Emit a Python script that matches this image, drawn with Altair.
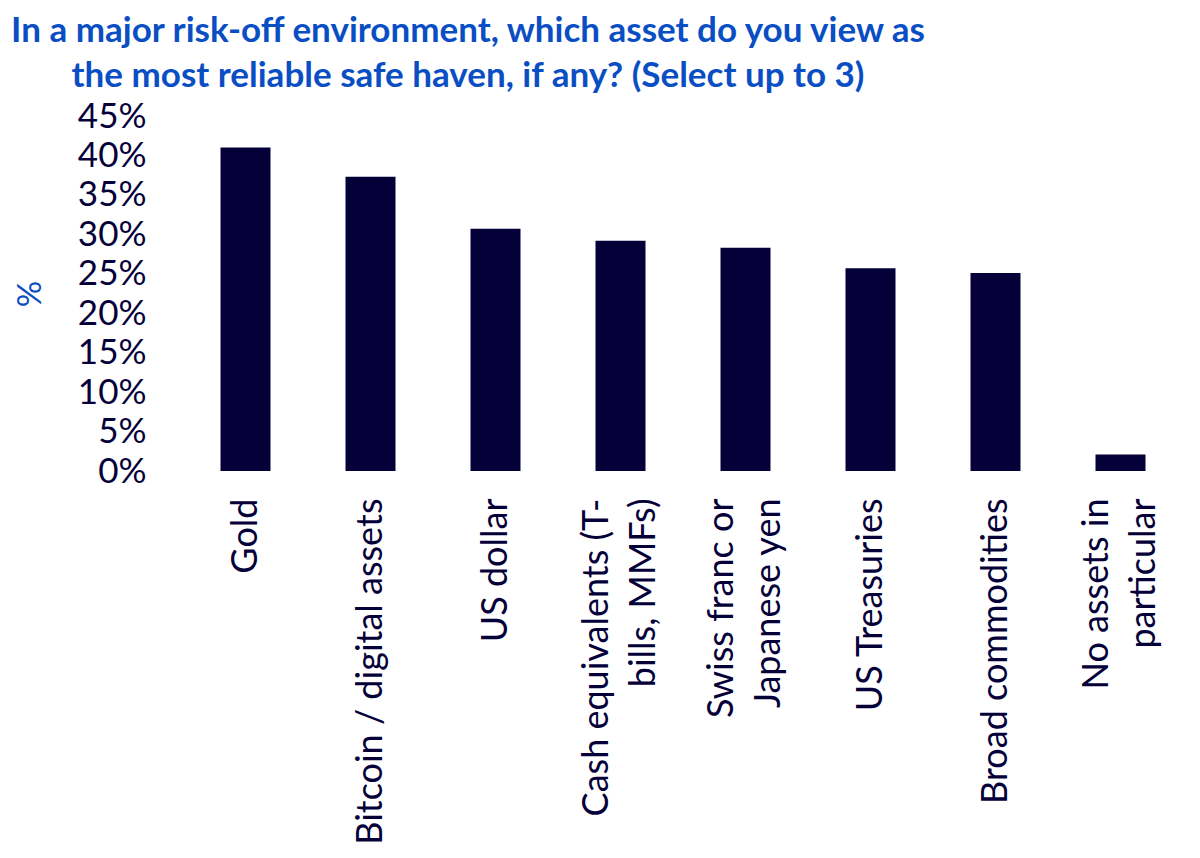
import altair as alt
import pandas as pd

categories = [
    "Gold",
    "Bitcoin / digital assets",
    "US dollar",
    "Cash equivalents (T-|bills, MMFs)",
    "Swiss franc or|Japanese yen",
    "US Treasuries",
    "Broad commodities",
    "No assets in|particular",
]
values = [41.0, 37.3, 30.7, 29.2, 28.3, 25.7, 25.1, 2.1]
y_ticks = [0, 5, 10, 15, 20, 25, 30, 35, 40, 45]

title_lines = [
    "In a major risk-off environment, which asset do you view as",
    "the most reliable safe haven, if any? (Select up to 3)",
]

df = pd.DataFrame({"asset": categories, "pct": values})

BAR = "#050038"
BLUE = "#0A4EC4"
FONT = "Lato"

chart = (
    alt.Chart(df)
    .mark_bar(color=BAR)
    .encode(
        x=alt.X(
            "asset:N",
            sort=categories,
            scale=alt.Scale(paddingInner=0.6, paddingOuter=0.3),
            axis=alt.Axis(
                title=None,
                labelAngle=-90,
                labelAlign="right",
                labelBaseline="middle",
                labelExpr="split(datum.label, '|')",
                labelOffset=alt.condition(
                    "indexof(datum.value, '|') >= 0", alt.value(-24), alt.value(0)
                ),
                labelFont=FONT,
                labelFontSize=36,
                labelLineHeight=47,
                labelColor=BAR,
                labelPadding=27,
                labelLimit=0,
                ticks=False,
                domain=False,
                grid=False,
            ),
        ),
        y=alt.Y(
            "pct:Q",
            scale=alt.Scale(domain=[0, 45], nice=False),
            axis=alt.Axis(
                title="%",
                values=y_ticks,
                labelExpr="datum.value + '%'",
                labelFont=FONT,
                labelFontSize=35,
                labelColor=BAR,
                labelPadding=37,
                titleFont=FONT,
                titleFontSize=33,
                titleFontWeight="normal",
                titleColor=BLUE,
                titlePadding=30,
                ticks=False,
                domain=False,
                grid=False,
            ),
        ),
    )
    .properties(
        width=1000,
        height=355,
        padding={"top": 6, "left": 0, "right": 5, "bottom": 5},
        title=alt.TitleParams(
            text=title_lines,
            font=FONT,
            fontSize=35,
            fontWeight="bold",
            color=BLUE,
            lineHeight=45,
            anchor="middle",
            frame="group",
            dx=-215,
            offset=5,
        ),
    )
    .configure_view(stroke=None)
)

chart.save("out.html", embed_options={"renderer": "svg", "actions": False})
